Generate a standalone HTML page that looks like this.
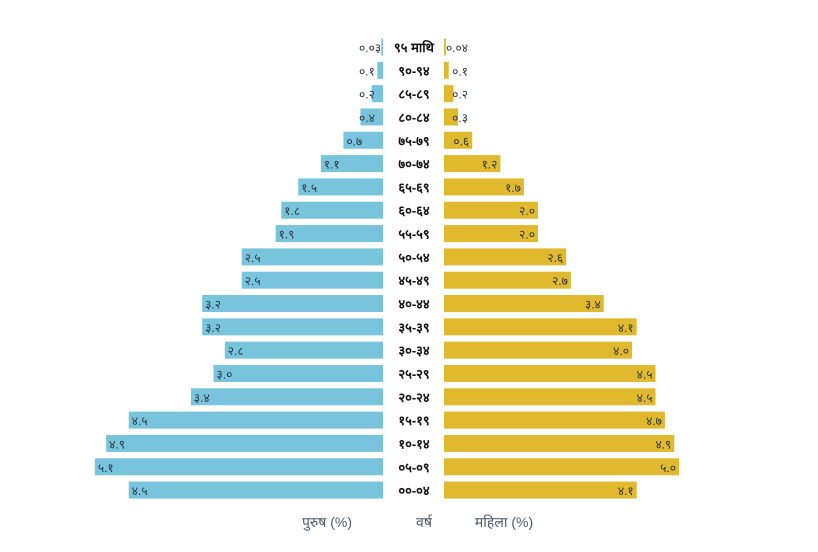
<!DOCTYPE html>
<html><head><meta charset="utf-8"><style>
body{margin:0;background:#fff}
svg{display:block;font-family:"Liberation Sans","Noto Sans CJK SC",sans-serif}
</style></head><body>
<svg id="c" width="818" height="552">
<g id="bars"></g>
<text x="327" y="527" text-anchor="middle" font-size="14" fill="#4a5868">पुरुष (%)</text>
<text x="424" y="527" text-anchor="middle" font-size="14" fill="#4a5868">वर्ष</text>
<text x="504" y="527" text-anchor="middle" font-size="14" fill="#4a5868">महिला (%)</text>
</svg>
<script>
const ages=["९५ माथि","९०-९४","८५-८९","८०-८४","७५-७९","७०-७४","६५-६९","६०-६४","५५-५९","५०-५४","४५-४९","४०-४४","३५-३९","३०-३४","२५-२९","२०-२४","१५-१९","१०-१४","०५-०९","००-०४"];
const male=[0.03,0.1,0.2,0.4,0.7,1.1,1.5,1.8,1.9,2.5,2.5,3.2,3.2,2.8,3.0,3.4,4.5,4.9,5.1,4.5];
const female=[0.04,0.1,0.2,0.3,0.6,1.2,1.7,2.0,2.0,2.6,2.7,3.4,4.1,4.0,4.5,4.5,4.7,4.9,5.0,4.1];
const maleLabels=["०.०३","०.१","०.२","०.४","०.७","१.१","१.५","१.८","१.९","२.५","२.५","३.२","३.२","२.८","३.०","३.४","४.५","४.९","५.१","४.५"];
const femaleLabels=["०.०४","०.१","०.२","०.३","०.६","१.२","१.७","२.०","२.०","२.६","२.७","३.४","४.१","४.०","४.५","४.५","४.७","४.९","५.०","४.१"];
const NS="http://www.w3.org/2000/svg";
const g=document.getElementById('bars');
const xM=v=>383-v*56.5, xF=v=>444+v*47;
const yC=i=>47+i*23.32;
function mk(t,a){const e=document.createElementNS(NS,t);for(const k in a)e.setAttribute(k,a[k]);g.appendChild(e);return e;}
ages.forEach((a,i)=>{
 const y=yC(i);
 const m=mk('rect',{x:xM(male[i]),y:y-8.5,width:383-xM(male[i]),height:17,fill:'#78c4dc'});
 
 
 const f=mk('rect',{x:444,y:y-8.5,width:xF(female[i])-444,height:17,fill:'#e0b92f'});
 
 
 const at=mk('text',{x:414,y:y+5,'text-anchor':'middle','font-size':13,'font-weight':'bold',fill:'#111'});
 at.textContent=a;
 
 
 const ml=mk('text',{x:Math.min(xM(male[i])+3,359),y:y+5,'font-size':12,fill:'#2a3440'});
 ml.textContent=maleLabels[i];
 
 
 const fl=mk('text',{x:Math.max(xF(female[i])-3,468),y:y+5,'text-anchor':'end','font-size':12,fill:'#2a3440'});
 fl.textContent=femaleLabels[i];
 
 
});
</script>
</body></html>
